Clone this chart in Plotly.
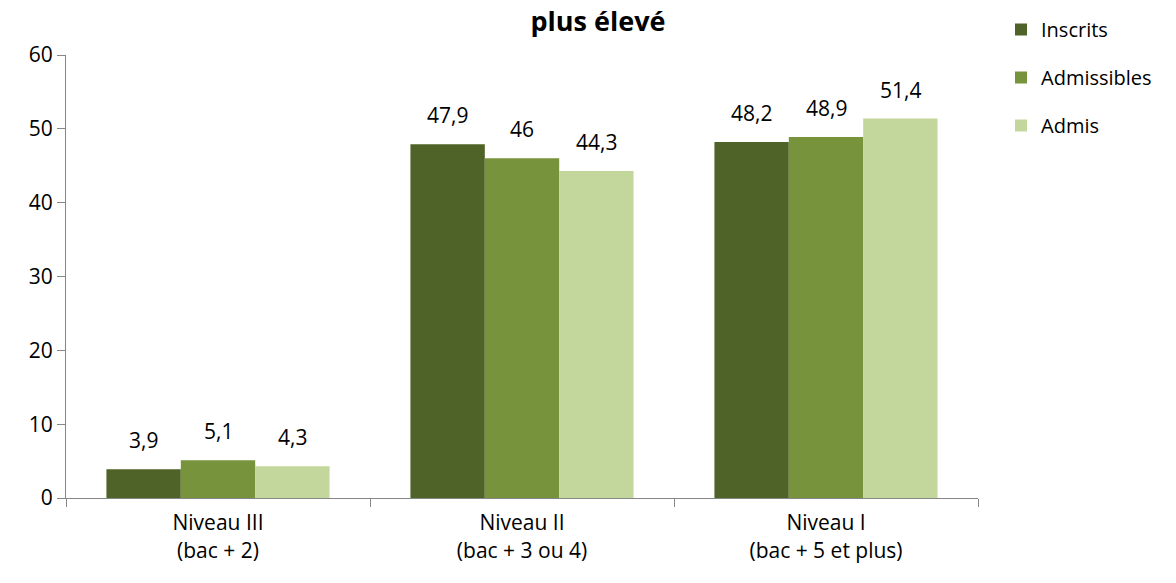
import plotly.graph_objects as go

categories = ["Niveau III<br>(bac + 2)", "Niveau II<br>(bac + 3 ou 4)", "Niveau I<br>(bac + 5 et plus)"]
series_names = ["Inscrits", "Admissibles", "Admis"]
inscrits = [3.9, 47.9, 48.2]
admissibles = [5.1, 46.0, 48.9]
admis = [4.3, 44.3, 51.4]
colors = ["#4F6228", "#77933C", "#C3D69B"]
y_ticks = [0, 10, 20, 30, 40, 50, 60]

FONT = "Open Sans"
FS = 21

def fmt(v):
    return f"{v:g}".replace(".", ",")

# page has an 8px body margin: figure sized/offset to compensate
OFF = 8
W, H = 1176 - OFF, 583 - OFF
L, T = 66 - OFF, 55 - OFF
R = W - (978 - OFF)
B = H - (498 - OFF)
BARGAP = 0.266
cat_px = (W - L - R) / len(categories)
bar_px = cat_px * (1 - BARGAP) / len(series_names)

fig = go.Figure()
annotations = []
all_series = [inscrits, admissibles, admis]
for i, (name, vals) in enumerate(zip(series_names, all_series)):
    fig.add_trace(go.Bar(
        x=categories, y=vals, name=name,
        marker=dict(color=colors[i], line=dict(width=0)),
        legendgroup=name,
    ))
    for j, v in enumerate(vals):
        annotations.append(dict(
            x=categories[j], y=v, xref="x", yref="y",
            text=fmt(v), showarrow=False,
            xshift=(i - 1) * bar_px, yshift=13, yanchor="bottom",
            font=dict(family=FONT, size=FS, color="#000000"),
        ))

fig.update_layout(
    width=W, height=H,
    paper_bgcolor="white", plot_bgcolor="white",
    margin=dict(l=L, r=R, t=T, b=B),
    barmode="group",
    bargap=BARGAP, bargroupgap=0,
    font=dict(family=FONT, size=FS, color="#000000"),
    title=dict(text="<b>plus élevé</b>", x=(598 - OFF) / W, xanchor="center",
               xref="container", yref="container", y=1, yanchor="top",
               pad=dict(t=4, b=0),
               font=dict(family=FONT, size=27, color="#000000")),
    legend=dict(xref="container", yref="container", x=(1001 - OFF) / W, y=1 - 2 / H,
                xanchor="left", yanchor="top",
                font=dict(family=FONT, size=20, color="#000000"),
                tracegroupgap=19, traceorder="grouped", bgcolor="rgba(0,0,0,0)"),
    showlegend=True,
    annotations=annotations,
)
fig.update_xaxes(
    showline=True, linecolor="#868686", linewidth=1.3,
    ticks="outside", ticklen=8, tickcolor="#868686", tickson="boundaries",
    showgrid=False, tickfont=dict(family=FONT, size=FS), automargin=False,
    ticklabelstandoff=6,
)
fig.update_yaxes(
    range=[0, 60], tickvals=y_ticks, showline=True, linecolor="#868686", linewidth=1.3,
    ticks="outside", ticklen=8, tickcolor="#868686", showgrid=False, zeroline=False,
    tickfont=dict(family=FONT, size=FS), automargin=False,
)

fig.write_html("out.html")
